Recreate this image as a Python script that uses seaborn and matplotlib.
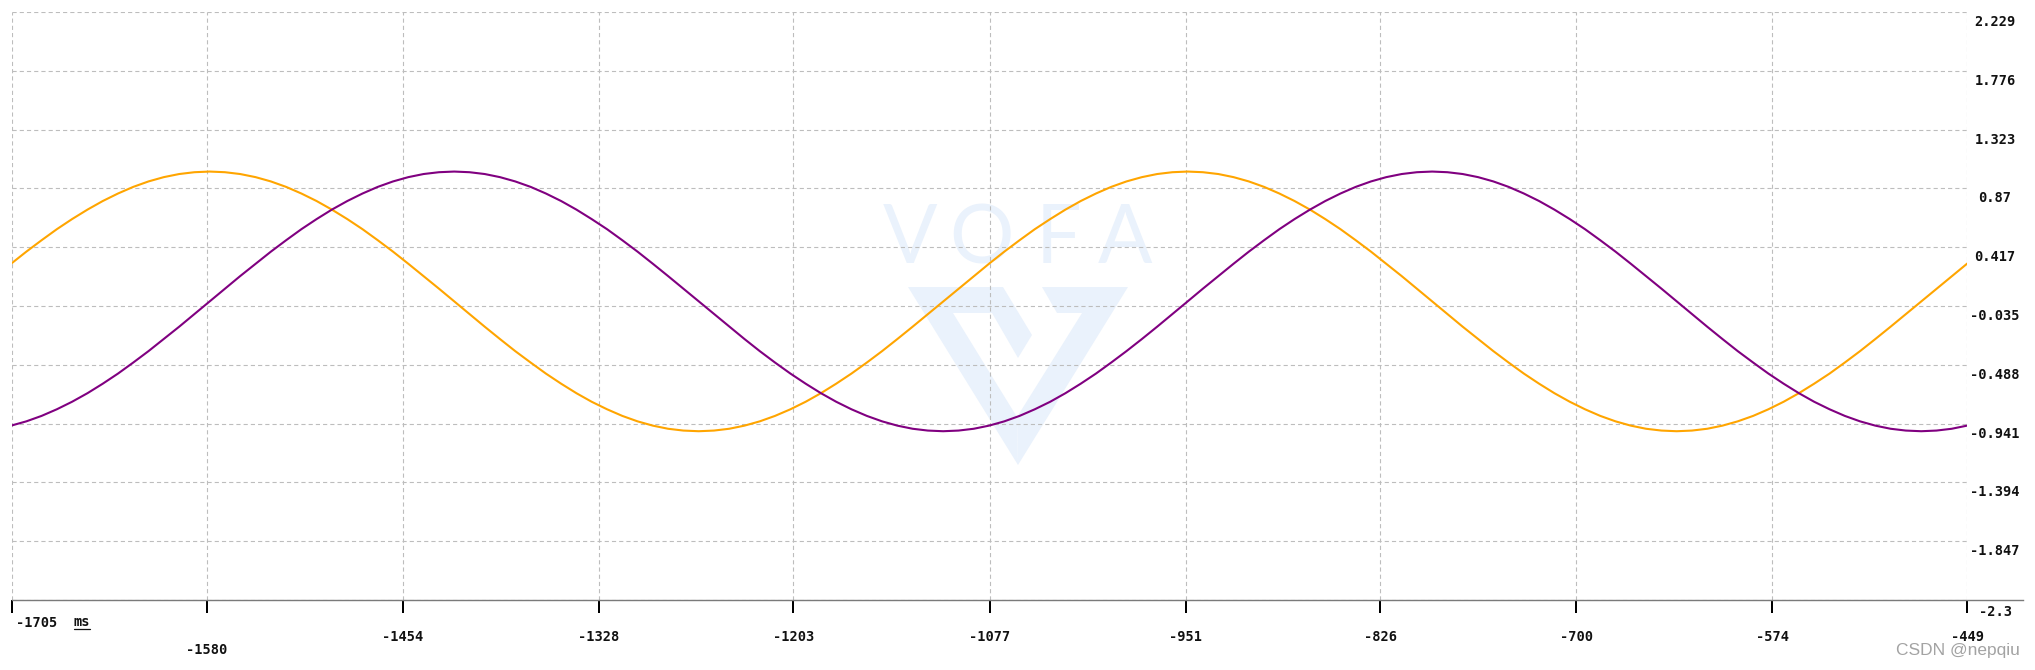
import matplotlib
matplotlib.use("Agg")
import matplotlib.pyplot as plt
import pandas as pd
import seaborn as sns
from matplotlib.patches import Polygon
from matplotlib.lines import Line2D

# ---------------- data ----------------
time_ms = [
    -1705.6, -1695.8, -1686.0, -1676.2, -1666.4, -1656.5, -1646.7, -1636.9, -1627.1, -1617.3,
    -1607.5, -1597.6, -1587.8, -1578.0, -1568.2, -1558.4, -1548.5, -1538.7, -1528.9, -1519.1,
    -1509.3, -1499.5, -1489.6, -1479.8, -1470.0, -1460.2, -1450.4, -1440.6, -1430.7, -1420.9,
    -1411.1, -1401.3, -1391.5, -1381.7, -1371.8, -1362.0, -1352.2, -1342.4, -1332.6, -1322.7,
    -1312.9, -1303.1, -1293.3, -1283.5, -1273.7, -1263.8, -1254.0, -1244.2, -1234.4, -1224.6,
    -1214.8, -1204.9, -1195.1, -1185.3, -1175.5, -1165.7, -1155.8, -1146.0, -1136.2, -1126.4,
    -1116.6, -1106.8, -1096.9, -1087.1, -1077.3, -1067.5, -1057.7, -1047.9, -1038.0, -1028.2,
    -1018.4, -1008.6, -998.8, -989.0, -979.1, -969.3, -959.5, -949.7, -939.9, -930.0,
    -920.2, -910.4, -900.6, -890.8, -881.0, -871.1, -861.3, -851.5, -841.7, -831.9,
    -822.1, -812.2, -802.4, -792.6, -782.8, -773.0, -763.1, -753.3, -743.5, -733.7,
    -723.9, -714.1, -704.2, -694.4, -684.6, -674.8, -665.0, -655.2, -645.3, -635.5,
    -625.7, -615.9, -606.1, -596.3, -586.4, -576.6, -566.8, -557.0, -547.2, -537.3,
    -527.5, -517.7, -507.9, -498.1, -488.3, -478.4, -468.6, -458.8, -449.0, -439.2,
]

ch_orange = [
    0.290, 0.383, 0.471, 0.556, 0.634, 0.707, 0.773, 0.831, 0.882, 0.924,
    0.957, 0.981, 0.995, 1.0, 0.995, 0.981, 0.957, 0.924, 0.882, 0.831,
    0.773, 0.707, 0.634, 0.556, 0.471, 0.383, 0.290, 0.195, 0.098, 0.0,
    -0.098, -0.195, -0.290, -0.383, -0.471, -0.556, -0.634, -0.707, -0.773, -0.831,
    -0.882, -0.924, -0.957, -0.981, -0.995, -1.0, -0.995, -0.981, -0.957, -0.924,
    -0.882, -0.831, -0.773, -0.707, -0.634, -0.556, -0.471, -0.383, -0.290, -0.195,
    -0.098, 0.0, 0.098, 0.195, 0.290, 0.383, 0.471, 0.556, 0.634, 0.707,
    0.773, 0.831, 0.882, 0.924, 0.957, 0.981, 0.995, 1.0, 0.995, 0.981,
    0.957, 0.924, 0.882, 0.831, 0.773, 0.707, 0.634, 0.556, 0.471, 0.383,
    0.290, 0.195, 0.098, 0.0, -0.098, -0.195, -0.290, -0.383, -0.471, -0.556,
    -0.634, -0.707, -0.773, -0.831, -0.882, -0.924, -0.957, -0.981, -0.995, -1.0,
    -0.995, -0.981, -0.957, -0.924, -0.882, -0.831, -0.773, -0.707, -0.634, -0.556,
    -0.471, -0.383, -0.290, -0.195, -0.098, 0.0, 0.098, 0.195, 0.290, 0.383,
]

ch_purple = [
    -0.957, -0.924, -0.882, -0.831, -0.773, -0.707, -0.634, -0.556, -0.471, -0.383,
    -0.290, -0.195, -0.098, 0.0, 0.098, 0.195, 0.290, 0.383, 0.471, 0.556,
    0.634, 0.707, 0.773, 0.831, 0.882, 0.924, 0.957, 0.981, 0.995, 1.0,
    0.995, 0.981, 0.957, 0.924, 0.882, 0.831, 0.773, 0.707, 0.634, 0.556,
    0.471, 0.383, 0.290, 0.195, 0.098, 0.0, -0.098, -0.195, -0.290, -0.383,
    -0.471, -0.556, -0.634, -0.707, -0.773, -0.831, -0.882, -0.924, -0.957, -0.981,
    -0.995, -1.0, -0.995, -0.981, -0.957, -0.924, -0.882, -0.831, -0.773, -0.707,
    -0.634, -0.556, -0.471, -0.383, -0.290, -0.195, -0.098, 0.0, 0.098, 0.195,
    0.290, 0.383, 0.471, 0.556, 0.634, 0.707, 0.773, 0.831, 0.882, 0.924,
    0.957, 0.981, 0.995, 1.0, 0.995, 0.981, 0.957, 0.924, 0.882, 0.831,
    0.773, 0.707, 0.634, 0.556, 0.471, 0.383, 0.290, 0.195, 0.098, 0.0,
    -0.098, -0.195, -0.290, -0.383, -0.471, -0.556, -0.634, -0.707, -0.773, -0.831,
    -0.882, -0.924, -0.957, -0.981, -0.995, -1.0, -0.995, -0.981, -0.957, -0.924,
]

x_ticks = [-1705, -1580, -1454, -1328, -1203, -1077, -951, -826, -700, -574, -449]
x_tick_labels = ["-1705", "-1580", "-1454", "-1328", "-1203", "-1077",
                 "-951", "-826", "-700", "-574", "-449"]
y_ticks = [2.229, 1.776, 1.323, 0.87, 0.417, -0.035, -0.488, -0.941, -1.394, -1.847, -2.3]
y_tick_labels = ["2.229", "1.776", "1.323", "0.87", "0.417", "-0.035", "-0.488",
                 "-0.941", "-1.394", "-1.847", "-2.3"]
x_unit = "ms"
series_names = ["CH0", "CH1"]
series_colors = ["#FFA500", "#800080"]
credit = "CSDN @nepqiu"
watermark = "VOFA"

# ---------------- style ----------------
sns.set_style("white")
plt.rcParams["font.family"] = ["DejaVu Sans Mono", "DejaVu Sans"]
plt.rcParams["lines.scale_dashes"] = False

W, H = 2035, 670
PT = 72.0 / 100.0  # points per pixel at dpi=100

fig = plt.figure(figsize=(W / 100, H / 100), dpi=100)
fig.patch.set_facecolor("white")
ax = fig.add_axes([12 / W, 1 - 600 / H, 1955 / W, 588 / H])
ax.set_facecolor("white")

n = len(time_ms)
df = pd.DataFrame({
    "t": time_ms * 2,
    "v": ch_orange + ch_purple,
    "ch": [series_names[0]] * n + [series_names[1]] * n,
})
sns.lineplot(data=df, x="t", y="v", hue="ch",
             palette=dict(zip(series_names, series_colors)),
             estimator=None, sort=False, legend=False,
             linewidth=1.5, ax=ax, zorder=3)

ax.set_xlim(x_ticks[0], x_ticks[-1])
ax.set_ylim(y_ticks[-1], y_ticks[0])
ax.set_xticks(x_ticks)
ax.set_yticks(y_ticks)
ax.set_xticklabels([])
ax.set_yticklabels([])
ax.set_xlabel("")
ax.set_ylabel("")

ax.grid(True, color="#bdbdbd", linewidth=0.8, linestyle=(0, (3.0, 2.2)))
ax.set_axisbelow(True)
for s in ["top", "left", "right"]:
    ax.spines[s].set_visible(False)
ax.spines["bottom"].set_color("#7a7a7a")
ax.spines["bottom"].set_linewidth(1.0)
ax.spines["bottom"].set_bounds(x_ticks[0], x_ticks[-1] + 36)

ax.tick_params(axis="x", direction="out", length=13 * PT, width=2 * PT,
               color="black", bottom=True, labelbottom=False)
ax.tick_params(axis="y", length=0, left=False, labelleft=False)

lab_kw = dict(fontsize=9.8, color="#111111", fontweight="bold",
              family=["DejaVu Sans Mono", "DejaVu Sans"])

# x tick labels (staggered like the reference)
for i, (tv, tl) in enumerate(zip(x_ticks, x_tick_labels)):
    if i == 0:
        off, ha, dx = 23, "left", 4
    elif i == 1:
        off, ha, dx = 50, "center", 0
    else:
        off, ha, dx = 37, "center", 0
    ax.annotate(tl, xy=(tv, 0), xycoords=("data", "axes fraction"),
                xytext=(dx * PT, -off * PT), textcoords="offset points",
                ha=ha, va="center", annotation_clip=False, **lab_kw)

# unit label, underlined
ax.annotate(x_unit, xy=(0, 0), xycoords="axes fraction",
            xytext=(62 * PT, -22 * PT), textcoords="offset points",
            ha="left", va="center", annotation_clip=False, **lab_kw)
fig.add_artist(Line2D([74 / W, 90 / W], [1 - 629 / H, 1 - 629 / H],
                      transform=fig.transFigure, color="#111111", lw=0.9))

# y tick labels on the right
for tv, tl in zip(y_ticks, y_tick_labels):
    dy = 12 if tl == y_tick_labels[-1] else 10
    ax.annotate(tl, xy=(1, tv), xycoords=("axes fraction", "data"),
                xytext=(28 * PT, -dy * PT), textcoords="offset points",
                ha="center", va="center", annotation_clip=False, **lab_kw)

# ---------------- watermark ----------------
wm_color = "#EAF2FC"


def fpt(x, y):
    return (x / W, 1 - y / H)


left_poly = [(908, 287), (1003, 287), (1032, 335), (1018, 358), (992, 313),
             (953, 313), (1017, 417), (1018, 465)]
right_poly = [(1042, 287), (1128, 287), (1018, 465), (1017, 417), (1082, 313),
              (1057, 313)]
for poly in (left_poly, right_poly):
    ax.add_patch(Polygon([fpt(*p) for p in poly], closed=True,
                         transform=fig.transFigure, facecolor=wm_color,
                         edgecolor="none", zorder=0.2, clip_on=False))

for ch, cx in zip(watermark, [910, 981, 1058, 1125]):
    ax.text(cx / W, 1 - 263 / H, ch, transform=fig.transFigure,
            ha="center", va="baseline", fontsize=58, color=wm_color,
            family=["Lato", "DejaVu Sans"], fontweight="normal", zorder=0.2)

fig.text(2020 / W, 1 - 655 / H, credit, ha="right", va="baseline",
         fontsize=12.5, color="#a3a3a3",
         family=["Liberation Sans", "DejaVu Sans"])

fig.savefig("out.png", dpi=100, facecolor="white")
